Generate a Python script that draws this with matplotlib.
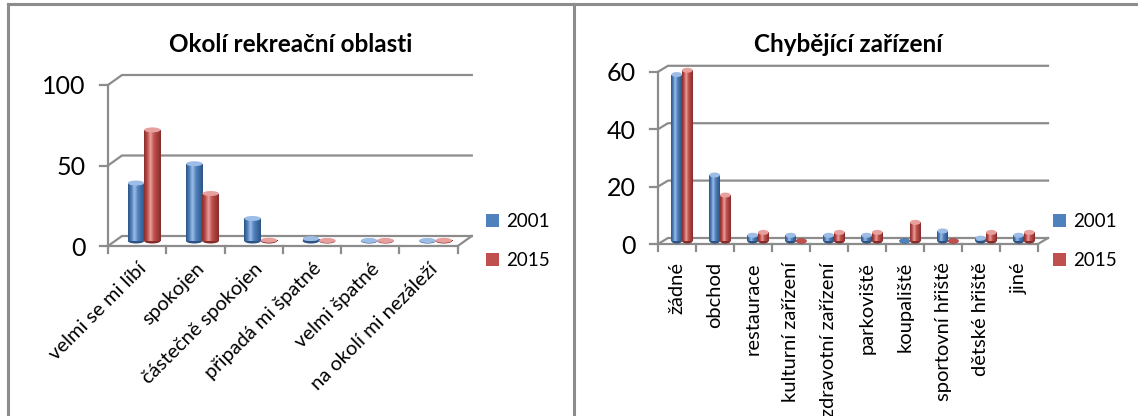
import matplotlib
matplotlib.use("Agg")
import matplotlib.pyplot as plt
import numpy as np
from matplotlib.colors import LinearSegmentedColormap
from matplotlib.lines import Line2D
from matplotlib.patches import Ellipse, Patch

plt.rcParams["font.family"] = ["Lato", "DejaVu Sans"]

W, H = 1138, 416

# left chart: Okolí rekreační oblasti
okoli_cats = ["velmi se mi líbí", "spokojen", "částečně spokojen",
              "připadá mi špatné", "velmi špatné", "na okolí mi nezáleží"]
okoli_2001 = [36, 48, 14, 1.5, 0.3, 0.3]
okoli_2015 = [69, 29.5, 0.5, 0.3, 0.3, 0.4]
okoli_ticks = [0, 50, 100]

# right chart: Chybějící zařízení
zariz_cats = ["žádné", "obchod", "restaurace", "kulturní zařízení", "zdravotní zařízení",
              "parkoviště", "koupaliště", "sportovní hřiště", "dětské hřiště", "jiné"]
zariz_2001 = [58, 23, 2, 2, 2, 2, 0, 3.5, 1, 2]
zariz_2015 = [59.5, 16, 3, 0, 3, 3, 6.5, 0, 3, 3]
zariz_ticks = [0, 20, 40, 60]

years = ["2001", "2015"]
BLUE = ("#4F81BD", "#2C5384", "#9DBDE6")   # base, shadow, highlight
RED = ("#C0504D", "#842D2B", "#E8A09E")
GRID = "#8C8C8C"


def px_axes(fig, left, right, top, bottom):
    return fig.add_axes([left / W, 1 - bottom / H, (right - left) / W, (bottom - top) / H])


# draw cylinder-ish bars: gradient body clipped to the bar patch, plus elliptic caps
def cylinders(ax, xs, vals, w, base, ell_h, colors):
    base_c, dark, light = colors
    cmap = LinearSegmentedColormap.from_list(
        "cyl", [(0, dark), (0.2, base_c), (0.38, light), (0.6, base_c), (1, dark)])
    bars = ax.bar(xs, vals, width=w, bottom=base, color=base_c, lw=0, zorder=3)
    grad = np.linspace(0, 1, 64).reshape(1, -1)
    for x, v, patch in zip(xs, vals, bars):
        ax.add_patch(Ellipse((x, base), w, ell_h, color=dark, lw=0, zorder=2.9))
        if v > 0:
            im = ax.imshow(grad, cmap=cmap, aspect="auto", zorder=3.1,
                           extent=(x - w / 2, x + w / 2, base, base + v))
            im.set_clip_path(patch)
        ax.add_patch(Ellipse((x, base + v), w, ell_h, color=light if v > 0 else base_c,
                             lw=0, zorder=3.2))


def panel(fig, title, cats, s1, s2, ticks, x0, y0, cat_px, unit_px, dx_px, dy_px,
          rot, label_pad, title_x):
    n = len(cats)
    ymax = ticks[-1]
    ddx = dx_px / cat_px
    ddy = dy_px / unit_px
    ax = px_axes(fig, x0, x0 + n * cat_px + dx_px, y0 - ymax * unit_px - dy_px, y0)

    # back wall gridlines + floor
    for v in ticks:
        ax.plot([-0.5, -0.5 + ddx, n - 0.5 + ddx], [v, v + ddy, v + ddy],
                color=GRID, lw=1.6, clip_on=False, zorder=1)
        ax.plot([-0.5 - 8 / cat_px, -0.5], [v, v], color=GRID, lw=1.6, clip_on=False)
    ax.plot([-0.5, -0.5], [0, ymax], color=GRID, lw=1.6, clip_on=False, zorder=1)
    ax.plot([-0.5, n - 0.5, n - 0.5 + ddx], [0, 0, ddy], color=GRID, lw=1.6,
            clip_on=False, zorder=1)
    for b in np.arange(n + 1) - 0.5:
        ax.plot([b, b], [0, -7 / unit_px], color=GRID, lw=1.6, clip_on=False)

    w = 0.28
    x = np.arange(n)
    ell_h = 5 / unit_px
    cylinders(ax, x - w / 2 + ddx / 2, s1, w, ddy / 2, ell_h, BLUE)
    cylinders(ax, x + w / 2 + ddx / 2, s2, w, ddy / 2, ell_h, RED)

    ax.set_xlim(-0.5, n - 0.5 + ddx)
    ax.set_ylim(0, ymax + ddy)
    for s in ax.spines.values():
        s.set_visible(False)
    ax.set_yticks(ticks)
    ax.set_yticklabels([str(t) for t in ticks], fontsize=18)
    ax.tick_params(axis="y", length=0, pad=16)
    ax.set_xticks(x)
    if rot == 45:
        ax.set_xticklabels(cats, rotation=45, ha="right", va="top",
                           rotation_mode="anchor", fontsize=14.5)
    else:
        ax.set_xticklabels(cats, rotation=90, ha="center", va="top", fontsize=14.5)
    ax.tick_params(axis="x", length=0, pad=label_pad)

    fig.text(title_x / W, 1 - 44 / H, title, fontsize=17.5, fontweight="bold",
             ha="center", va="center")
    return ax


fig = plt.figure(figsize=(W / 100, H / 100), dpi=100)

panel(fig, "Okolí rekreační oblasti", okoli_cats, okoli_2001, okoli_2015, okoli_ticks,
      x0=108, y0=246, cat_px=58.3, unit_px=1.61, dx_px=14, dy_px=10,
      rot=45, label_pad=10, title_x=291)
panel(fig, "Chybějící zařízení", zariz_cats, zariz_2001, zariz_2015, zariz_ticks,
      x0=658, y0=244, cat_px=38, unit_px=2.87, dx_px=10, dy_px=6,
      rot=90, label_pad=13, title_x=848)

handles = [Patch(facecolor=BLUE[0]), Patch(facecolor=RED[0])]
for lx in (486, 1053):
    fig.legend(handles, years, loc="center left", bbox_to_anchor=(lx / W, 1 - 241 / H),
               frameon=False, fontsize=13.5, labelspacing=1.15, handlelength=0.7,
               handleheight=0.7, handletextpad=0.35, borderpad=0, borderaxespad=0)

# chart frames
for xs, ys in (([8, W], [4, 4]), ([8, 8], [4, H]), ([574, 574], [4, H])):
    fig.add_artist(Line2D([v / W for v in xs], [1 - v / H for v in ys],
                          color="#8C8C8C", lw=2.2))

fig.savefig("out.png", dpi=100)
